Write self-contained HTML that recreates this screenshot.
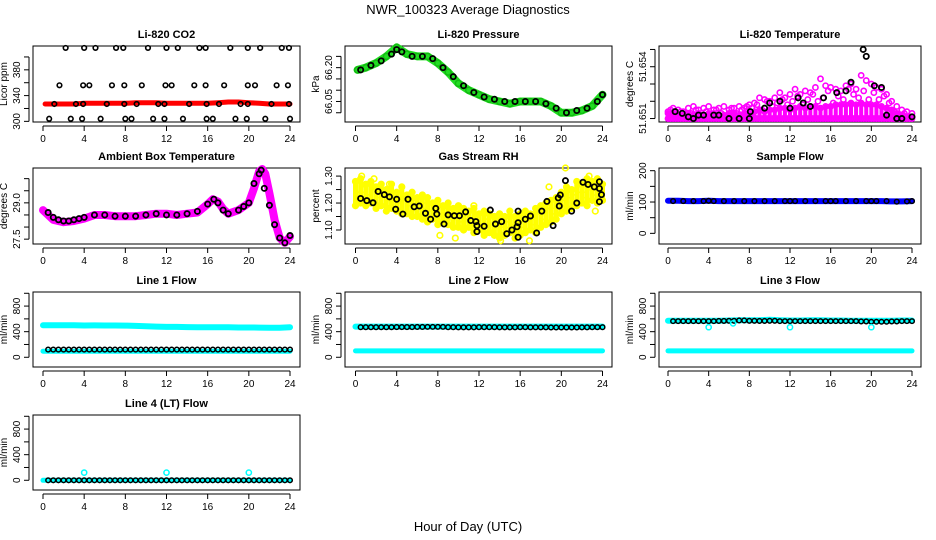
<!DOCTYPE html>
<html><head><meta charset="utf-8"><style>
body{margin:0;background:#fff;}
svg{display:block;font-family:"Liberation Sans",sans-serif;}
</style></head><body>
<svg id="chart" width="936" height="540" viewBox="0 0 936 540">
<text x="468" y="14" text-anchor="middle" font-size="13">NWR_100323  Average Diagnostics</text>
<text x="468" y="531" text-anchor="middle" font-size="13">Hour of Day (UTC)</text>
</svg>
<script>
// ---------- data ----------
const xTicks = [0,4,8,12,16,20,24];
const xTickLabels = ["0","4","8","12","16","20","24"];

const co2RedHours = [0.2,1,2,3,4,5,6,7,8,9,10,11,12,13,14,15,16,17,18,19,20,21,22,23,24];
const co2RedVals = [327,327,327,327,328,328,328,328,328,329,329,329,328,328,328,328,328,329,330,330,329,328,327,327,327];
const co2BlackHours = [2.2,4.0,5.1,7.1,7.8,10.2,12.0,13.1,15.2,15.8,18.2,19.9,21.1,23.2,23.9,
 1.6,3.9,4.5,6.7,7.9,9.6,11.9,12.5,14.7,15.8,17.6,19.9,20.6,22.7,23.8,
 1.1,3.2,3.9,6.2,7.9,9.1,11.2,11.8,14.2,15.9,17.1,19.2,19.9,22.2,23.9,
 0.6,2.7,3.8,5.6,8.0,8.6,10.7,11.8,13.6,15.9,16.5,18.7,19.8,21.6,24.0];
const co2BlackVals = [414,414,414,414,414,414,414,414,414,414,414,414,414,414,414,
 356,356,356,356,356,356,356,356,356,356,356,356,356,356,356,
 327,327,327,327,327,327,327,327,327,327,327,327,327,327,327,
 304,304,304,304,304,304,304,304,304,304,304,304,304,304,304];
const co2Ticks = [300,320,340,360,380,400];
const co2Labels = ["300","","340","","380",""];

const presHours = [0.2,1,2,3,4,5,6,7,8,9,10,11,12,13,14,15,16,17,18,19,20,21,22,23,24];
const presVals = [66.19,66.20,66.22,66.25,66.29,66.26,66.25,66.25,66.22,66.18,66.13,66.10,66.08,66.06,66.05,66.04,66.05,66.05,66.05,66.03,66.00,66.00,66.01,66.03,66.08];
const presBlackHours = [0.5,1.5,2.5,3.5,4.0,4.5,5.5,6.5,7.5,8.5,9.5,10.5,11.5,12.5,13.5,14.5,15.5,16.5,17.5,18.5,19.5,20.5,21.5,22.5,23.5,24];
const presBlackVals = [66.19,66.21,66.23,66.26,66.28,66.27,66.25,66.25,66.24,66.20,66.16,66.12,66.09,66.07,66.06,66.05,66.05,66.05,66.05,66.04,66.02,66.00,66.01,66.02,66.05,66.08];
const presTicks = [66.00,66.05,66.10,66.15,66.20,66.25];
const presLabels = ["","66.05","","","66.20",""];

const tempHours = [0,0.5,1,1.5,2,2.5,3,3.5,4,4.5,5,5.5,6,6.5,7,7.5,8,8.5,9,9.5,10,10.5,11,11.5,12,12.5,13,13.5,14,14.5,15,15.5,16,16.5,17,17.5,18,18.5,19,19.5,20,20.5,21,21.5,22,22.5,23,23.5,24];
const tempHoursB = [0.25,0.75,1.25,1.75,2.25,2.75,3.25,3.75,4.25,4.75,5.25,5.75,6.25,6.75,7.25,7.75,8.25,8.75,9.25,9.75,10.25,10.75,11.25,11.75,12.25,12.75,13.25,13.75,14.25,14.75,15.25,15.75,16.25,16.75,17.25,17.75,18.25,18.75,19.25,19.75,20.25,20.75,21.25,21.75,22.25,22.75,23.25,23.75];
const pinkLow = [51.651,51.651,51.651,51.651,51.651,51.651,51.651,51.651,51.651,51.651,51.651,51.651,51.651,51.651,51.651,51.651,51.651,51.651,51.651,51.651,51.651,51.651,51.651,51.651,51.651,51.651,51.651,51.651,51.651,51.651,51.651,51.651,51.651,51.651,51.651,51.651,51.651,51.651,51.651,51.651,51.651,51.651,51.651,51.651,51.651,51.651,51.651,51.651,51.651];
const pinkMid = [51.6513,51.6513,51.6512,51.6512,51.6513,51.6512,51.6513,51.6512,51.6513,51.6513,51.6512,51.6512,51.6513,51.6513,51.6512,51.6513,51.6513,51.6514,51.6515,51.6514,51.6515,51.6515,51.6516,51.6516,51.6515,51.6516,51.6517,51.6516,51.6517,51.6517,51.6516,51.6517,51.6517,51.6518,51.6518,51.6518,51.6519,51.6518,51.6519,51.6518,51.6518,51.6518,51.6517,51.6516,51.6515,51.6513,51.6512,51.6511,51.6511];
const pinkB = [51.6515,51.6512,51.6514,51.6511,51.6513,51.6515,51.6512,51.6514,51.6512,51.6515,51.6513,51.6511,51.6516,51.6513,51.6515,51.6517,51.6516,51.6518,51.6515,51.652,51.6517,51.6519,51.6521,51.6518,51.652,51.6523,51.6518,51.6521,51.6524,51.652,51.6522,51.6526,51.6519,51.6523,51.6521,51.6527,51.6524,51.6522,51.6526,51.6521,51.6525,51.6521,51.6523,51.6519,51.6514,51.6512,51.6513,51.6511];
const pinkHigh = [51.6514,51.6516,51.6515,51.6514,51.6516,51.6517,51.6515,51.6516,51.6517,51.6515,51.6516,51.6517,51.6515,51.6516,51.6517,51.6516,51.6518,51.6519,51.6522,51.6521,51.652,51.6522,51.6525,51.6522,51.6524,51.6527,51.6524,51.6526,51.6525,51.6528,51.6533,51.6529,51.6528,51.6527,51.6526,51.6529,51.653,51.6527,51.6535,51.6532,51.653,51.6528,51.6527,51.6524,51.652,51.6517,51.6515,51.6514,51.6513];
const tempBlackHours = [0.7,1.4,2,2.5,3,3.5,4.5,5,6,7,8,8.1,9.5,10,11,12,12.8,13.3,14,15.3,16.6,17.5,18,19.2,19.5,20.3,21,21.5,22.5,23,24];
const tempBlackVals = [51.6514,51.6513,51.6511,51.651,51.6512,51.6512,51.6512,51.6512,51.651,51.651,51.651,51.6514,51.6516,51.6519,51.652,51.6516,51.6522,51.6519,51.6517,51.6522,51.6525,51.6526,51.6531,51.655,51.6546,51.6529,51.6528,51.6512,51.651,51.651,51.6511];
const tempTicks = [51.651,51.652,51.653,51.654,51.655];
const tempLabels = ["51.651","","","51.654",""];

const ambHours = [0,1,2,3,4,5,6,7,8,9,10,11,12,13,14,15,16,16.5,17,17.5,18,19,20,20.5,21,21.3,21.6,22,22.5,23,23.5,24];
const ambVals = [28.7,28.3,28.2,28.25,28.35,28.5,28.5,28.45,28.45,28.45,28.5,28.55,28.55,28.5,28.55,28.6,28.95,29.15,29.05,28.75,28.55,28.7,29.0,29.6,30.3,30.4,30.2,29.4,28.3,27.55,27.35,27.6];
const ambBlackHours = [0.5,1,1.5,2,2.5,3,3.5,4,5,6,7,8,9,10,11,12,13,14,15,16,16.6,17,17.5,18,19,19.5,20,20.5,21,21.2,21.5,22,22.5,23,23.5,24];
const ambBlackVals = [28.6,28.4,28.3,28.25,28.25,28.3,28.35,28.4,28.5,28.5,28.45,28.45,28.45,28.5,28.55,28.5,28.5,28.55,28.65,28.95,29.15,29.0,28.7,28.55,28.7,28.85,29.0,29.8,30.2,30.35,29.6,28.9,28.1,27.55,27.35,27.65];
const ambTicks = [27.5,28.0,28.5,29.0,29.5,30.0];
const ambLabels = ["27.5","","","29.0","",""];

const rhHours = tempHours;
const yellowHigh = [1.28,1.29,1.27,1.28,1.26,1.27,1.25,1.27,1.24,1.26,1.23,1.24,1.22,1.23,1.22,1.20,1.21,1.19,1.20,1.18,1.19,1.18,1.17,1.18,1.16,1.17,1.16,1.15,1.16,1.15,1.17,1.15,1.16,1.17,1.16,1.18,1.19,1.20,1.21,1.22,1.24,1.26,1.25,1.28,1.27,1.29,1.28,1.29,1.27];
const yellowLow = [1.19,1.20,1.19,1.20,1.18,1.19,1.17,1.18,1.17,1.16,1.16,1.15,1.15,1.14,1.13,1.14,1.12,1.13,1.12,1.11,1.11,1.10,1.11,1.09,1.10,1.08,1.09,1.08,1.07,1.08,1.09,1.07,1.08,1.09,1.10,1.09,1.11,1.12,1.13,1.14,1.16,1.17,1.18,1.19,1.20,1.19,1.21,1.20,1.21];
const yellowMidB = [1.23,1.25,1.22,1.26,1.21,1.24,1.20,1.23,1.19,1.22,1.18,1.20,1.17,1.19,1.16,1.18,1.14,1.17,1.13,1.15,1.12,1.15,1.11,1.14,1.10,1.13,1.11,1.14,1.10,1.12,1.11,1.14,1.12,1.15,1.13,1.17,1.15,1.19,1.17,1.21,1.20,1.23,1.22,1.25,1.23,1.26,1.24,1.25];
const yellowOutHours = [0.6,1.8,20.4,22.7,8.2,14.1,16.9,9.7,3.3,11.5,18.8,23.3];
const yellowOutVals = [1.30,1.29,1.33,1.30,1.08,1.06,1.06,1.07,1.27,1.19,1.26,1.17];
const rhBlackHours = [0.5,1.1,1.7,2.2,2.8,3.3,4.0,3.9,4.6,5.1,5.7,6.2,6.8,7.3,7.8,7.9,8.6,9.0,9.6,10.1,10.7,11.2,11.7,11.8,11.8,12.5,13.1,13.6,14.2,14.7,15.2,15.7,15.8,15.8,15.8,16.5,17.0,17.6,18.1,18.6,19.2,19.7,19.8,19.9,20.4,21.0,21.5,22.1,22.6,23.2,23.7,23.7,23.9,23.7];
const rhBlackVals = [1.217,1.209,1.201,1.243,1.231,1.223,1.214,1.177,1.159,1.214,1.186,1.189,1.162,1.140,1.180,1.159,1.122,1.156,1.153,1.153,1.167,1.135,1.131,1.116,1.094,1.114,1.174,1.122,1.131,1.086,1.100,1.112,1.127,1.170,1.073,1.140,1.152,1.089,1.170,1.206,1.116,1.219,1.189,1.230,1.283,1.170,1.200,1.277,1.269,1.260,1.279,1.254,1.231,1.205];
const rhTicks = [1.10,1.15,1.20,1.25,1.30];
const rhLabels = ["1.10","","1.20","","1.30"];

const sfHours = [0,1,2,3,4,5,6,7,8,9,10,11,12,13,14,15,16,17,18,19,20,21,22,23,24];
const sfBlue = [104,104,103,103,104,103,103,103,103,103,103,103,103,103,103,103,103,103,103,103,103,103,102,102,103];
const sfBlackHours = [0.5,1.5,2.5,3.5,4,4.5,5.5,6.5,7.5,8.5,9.5,10.5,11.5,12,12.5,13.5,14.5,15.5,16,16.5,17.5,18.5,19.5,20,20.5,21.5,22.5,23.5,24];
const sfBlackVals = [103,103,103,103,104,103,103,103,103,103,103,103,103,103,103,103,103,103,103,103,103,103,103,103,103,103,101,102,103];
const sfTicks = [0,50,100,150,200];
const sfLabels = ["0","","100","","200"];

const flowHours = [0,1,2,3,4,5,6,7,8,9,10,11,12,13,14,15,16,17,18,19,20,21,22,23,24];
const flowBlackHours = [0.5,1,1.5,2,2.5,3,3.5,4,4.5,5,5.5,6,6.5,7,7.5,8,8.5,9,9.5,10,10.5,11,11.5,12,12.5,13,13.5,14,14.5,15,15.5,16,16.5,17,17.5,18,18.5,19,19.5,20,20.5,21,21.5,22,22.5,23,23.5,24];
const l1Upper = [500,500,500,500,497,498,497,497,495,490,485,480,475,475,472,470,470,468,468,466,465,463,462,462,470];
const l1Lower = [95,95,95,95,95,95,95,95,95,95,95,95,95,95,95,95,95,95,95,95,95,95,95,95,95];
const l1Black = [120,120,120,120,120,120,120,120,120,120,120,120,120,120,120,120,120,120,120,120,120,120,120,120,120,120,120,120,120,120,120,120,120,120,120,120,120,120,120,120,120,120,120,120,120,120,120,120];
const l2Upper = [480,480,480,480,480,480,480,480,480,480,480,480,480,480,480,480,480,480,480,480,480,480,480,480,480];
const l2Lower = [100,100,100,100,100,100,100,100,100,100,100,100,100,100,100,100,100,100,100,100,100,100,100,100,100];
const l2Black = [470,470,470,470,470,470,470,472,472,472,472,474,474,475,475,475,475,470,470,468,468,468,468,470,470,470,470,468,468,468,468,470,470,468,468,468,468,466,466,466,466,466,466,468,468,470,470,470];
const l3Upper = [570,570,570,570,570,570,575,580,580,580,585,580,575,575,580,580,575,575,570,570,570,570,570,575,575];
const l3Lower = [100,100,100,100,100,100,100,100,100,100,100,100,100,100,100,100,100,100,100,100,100,100,100,100,100];
const l3Black = [565,565,565,565,565,565,565,565,565,568,568,570,570,575,575,570,570,568,568,570,570,565,565,565,565,565,565,565,565,565,565,565,565,565,565,565,565,560,560,555,555,555,555,560,560,565,565,565];
const l3DipHours = [4,6.4,12,20];
const l3DipVals = [470,530,470,470];
const l4Cyan = [0,0,0,0,0,0,0,0,0,0,0,0,0,0,0,0,0,0,0,0,0,0,0,0,0];
const l4SpikeHours = [4,12,20];
const l4SpikeVals = [120,120,120];
const l4Black = [0,0,0,0,0,0,0,0,0,0,0,0,0,0,0,0,0,0,0,0,0,0,0,0,0,0,0,0,0,0,0,0,0,0,0,0,0,0,0,0,0,0,0,0,0,0,0,0];
const flowTicks = [0,200,400,600,800,1000];
const flowLabels = ["0","","400","","800",""];

// ---------- layout ----------
const NS = "http://www.w3.org/2000/svg";
const svg = document.getElementById("chart");
const COLS = [{l:33,r:300,x0:43,x24:290},{l:345,r:612,x0:355.5,x24:602.5},{l:659,r:921,x0:668,x24:912}];
const ROWS = [{t:46,b:122},{t:168,b:244},{t:292,b:367},{t:415,b:490}];

function el(tag, attrs, parent){
  const e = document.createElementNS(NS, tag);
  for (const k in attrs) e.setAttribute(k, attrs[k]);
  (parent||svg).appendChild(e);
  return e;
}

function makePanel(name, title, ci, ri, ymin, ymax, yTicks, yLabels, yTitle){
  const c = COLS[ci], r = ROWS[ri];
  const g = el("g", {});
  
  
  const xs = h => c.x0 + (c.x24 - c.x0) * h / 24;
  const ys = v => r.b - (v - ymin) / (ymax - ymin) * (r.b - r.t);
  const t = el("text", {x:(c.l+c.r)/2, y:r.t-8, "text-anchor":"middle", "font-size":"11", "font-weight":"bold"}, g);
  t.textContent = title;
  
  
  const box = el("rect", {x:c.l, y:r.t, width:c.r-c.l, height:r.b-r.t, fill:"none", stroke:"#000", "stroke-width":"1"}, g);
  
  
  const xa = el("g", {}, g);
  
  
  el("line", {x1:xs(xTicks[0]), x2:xs(xTicks[xTicks.length-1]), y1:r.b+4, y2:r.b+4, stroke:"#000"}, xa);
  xTicks.forEach((v,i)=>{
    el("line", {x1:xs(v), x2:xs(v), y1:r.b+4, y2:r.b+9, stroke:"#000"}, xa);
    const lt = el("text", {x:xs(v), y:r.b+20, "text-anchor":"middle", "font-size":"10"}, xa);
    lt.textContent = xTickLabels[i];
    
    
  });
  const ya = el("g", {}, g);
  
  
  el("line", {x1:c.l-4, x2:c.l-4, y1:ys(yTicks[0]), y2:ys(yTicks[yTicks.length-1]), stroke:"#000"}, ya);
  yTicks.forEach((v,i)=>{
    el("line", {x1:c.l-9, x2:c.l-4, y1:ys(v), y2:ys(v), stroke:"#000"}, ya);
    if (yLabels[i]) {
      const lt = el("text", {x:0, y:0, "text-anchor":"middle", "font-size":"10", transform:`translate(${c.l-13},${ys(v)}) rotate(-90)`}, ya);
      lt.textContent = yLabels[i];
      
      
    }
  });
  const yt = el("text", {x:0, y:0, "text-anchor":"middle", "font-size":"10", transform:`translate(${c.l-26},${(r.t+r.b)/2}) rotate(-90)`}, g);
  yt.textContent = yTitle;
  
  
  const clipG = el("g", {}, g);
  return {g:clipG, xs, ys};
}

function band(p, hours, vals, color, w, name){
  const pts = hours.map((h,i)=>p.xs(h).toFixed(1)+","+p.ys(vals[i]).toFixed(1)).join(" ");
  const pl = el("polyline", {points:pts, fill:"none", stroke:color, "stroke-width":w, "stroke-linejoin":"round", "stroke-linecap":"round"}, p.g);
  
  
}
function pts(p, hours, vals, color, rad, sw, name){
  hours.forEach((h,i)=>{
    const ci = el("circle", {cx:p.xs(h), cy:p.ys(vals[i]), r:rad, fill:"none", stroke:color, "stroke-width":sw}, p.g);
    
    
  });
}
function vbars(p, hours, lo, hi, color, w, name){
  hours.forEach((h,i)=>{
    const ln = el("line", {x1:p.xs(h), x2:p.xs(h), y1:p.ys(lo[i]), y2:p.ys(hi[i]), stroke:color, "stroke-width":w, "stroke-linecap":"round"}, p.g);
    
    
  });
}

// CO2
let p = makePanel("co2", "Li-820 CO2", 0, 0, 299, 417, co2Ticks, co2Labels, "Licor ppm");
band(p, co2RedHours, co2RedVals, "#ff0000", 5, "co2-red-series");
pts(p, co2BlackHours, co2BlackVals, "#000", 2.3, 1.6, "co2-black-point");

// Pressure
p = makePanel("pressure", "Li-820 Pressure", 1, 0, 65.959, 66.296, presTicks, presLabels, "kPa");
band(p, presHours, presVals, "#22dd22", 8, "pressure-green-series");
pts(p, presHours, presVals, "#11bb11", 3, 1.5, "pressure-green-point");
pts(p, presBlackHours, presBlackVals, "#000", 2.6, 1.8, "pressure-black-point");

// Li-820 Temperature
p = makePanel("li820-temp", "Li-820 Temperature", 2, 0, 51.6508, 51.6552, tempTicks, tempLabels, "degrees C");
vbars(p, tempHours, pinkLow, pinkMid, "#ff00ff", 4, "li820-temp-pink-band");
pts(p, tempHours, pinkLow, "#ff00ff", 2.6, 1.6, "li820-temp-pink-point");
pts(p, tempHoursB, pinkLow, "#ff00ff", 2.6, 1.6, "li820-temp-pink-point");
pts(p, tempHours, pinkMid, "#ff00ff", 2.6, 1.6, "li820-temp-pink-point");
pts(p, tempHoursB, pinkB, "#ff00ff", 2.6, 1.6, "li820-temp-pink-point");
pts(p, tempHours, pinkHigh, "#ff00ff", 2.6, 1.6, "li820-temp-pink-point");
pts(p, tempBlackHours, tempBlackVals, "#000", 2.6, 1.8, "li820-temp-black-point");

// Ambient Box Temperature
p = makePanel("ambient", "Ambient Box Temperature", 0, 1, 27.3, 30.44, ambTicks, ambLabels, "degrees C");
band(p, ambHours, ambVals, "#ff00ff", 8, "ambient-magenta-series");
pts(p, ambBlackHours, ambBlackVals, "#000", 2.6, 1.8, "ambient-black-point");

// Gas Stream RH
p = makePanel("rh", "Gas Stream RH", 1, 1, 1.048, 1.33, rhTicks, rhLabels, "percent");
vbars(p, rhHours, yellowLow, yellowHigh, "#ffff00", 5, "rh-yellow-band");
pts(p, rhHours, yellowHigh, "#ffff00", 2.8, 1.6, "rh-yellow-point");
pts(p, rhHours, yellowLow, "#ffff00", 2.8, 1.6, "rh-yellow-point");
pts(p, tempHoursB, yellowMidB, "#ffff00", 2.8, 1.6, "rh-yellow-point");
pts(p, yellowOutHours, yellowOutVals, "#ffff00", 2.8, 1.6, "rh-yellow-point");
pts(p, rhBlackHours, rhBlackVals, "#000", 2.6, 1.8, "rh-black-point");

// Sample Flow
p = makePanel("sample-flow", "Sample Flow", 2, 1, -34, 208.6, sfTicks, sfLabels, "ml/min");
band(p, sfHours, sfBlue, "#0000ff", 6, "sample-flow-blue-series");
pts(p, sfBlackHours, sfBlackVals, "#000", 2.3, 1.5, "sample-flow-black-point");

// Line flows
function flowPanel(name, title, ci, ri, up, lo, blk){
  const q = makePanel(name, title, ci, ri, -152, 1020, flowTicks, flowLabels, "ml/min");
  band(q, flowHours, up, "#00ffff", 6, name + "-cyan-upper");
  band(q, flowHours, lo, "#00ffff", 5, name + "-cyan-lower");
  pts(q, flowBlackHours, blk, "#000", 2.3, 1.5, name + "-black-point");
  return q;
}
flowPanel("line1-flow", "Line 1 Flow", 0, 2, l1Upper, l1Lower, l1Black);
flowPanel("line2-flow", "Line 2 Flow", 1, 2, l2Upper, l2Lower, l2Black);
p = flowPanel("line3-flow", "Line 3 Flow", 2, 2, l3Upper, l3Lower, l3Black);
pts(p, l3DipHours, l3DipVals, "#00ffff", 2.6, 1.5, "line3-flow-cyan-dip");
p = makePanel("line4-flow", "Line 4 (LT) Flow", 0, 3, -152, 1020, flowTicks, flowLabels, "ml/min");
band(p, flowHours, l4Cyan, "#00ffff", 5, "line4-flow-cyan");
pts(p, l4SpikeHours, l4SpikeVals, "#00ffff", 2.6, 1.5, "line4-flow-cyan-spike");
pts(p, flowBlackHours, l4Black, "#000", 2.3, 1.5, "line4-flow-black-point");
</script>
</body></html>
